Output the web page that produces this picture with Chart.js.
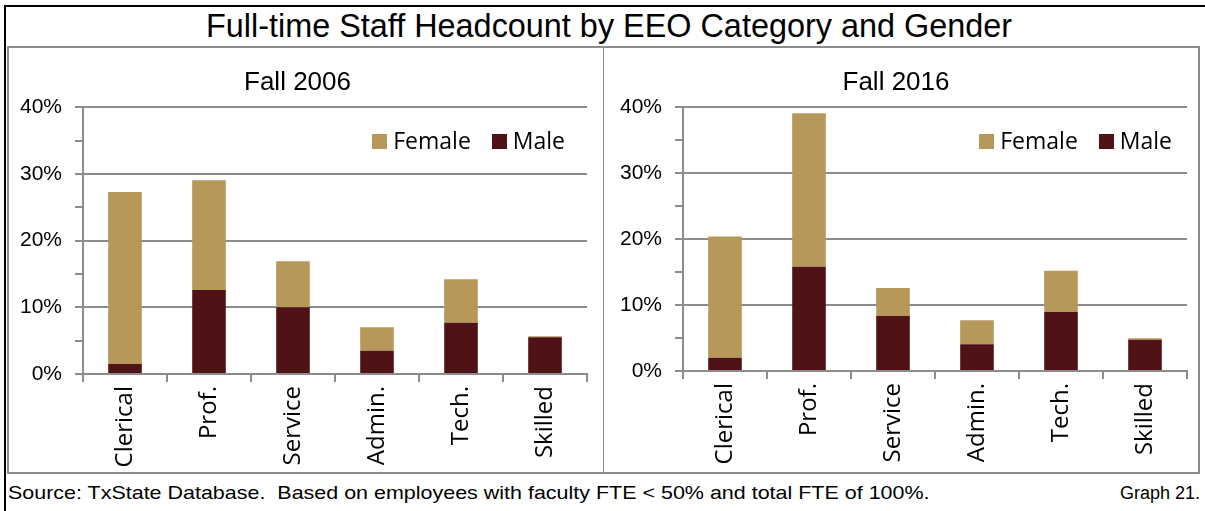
<!DOCTYPE html>
<html>
<head>
<meta charset="utf-8">
<script src="https://cdn.jsdelivr.net/npm/chart.js@4.4.1/dist/chart.umd.min.js"></script>
<style>
html,body{margin:0;padding:0;background:#fff;}
body{width:1205px;height:511px;position:relative;overflow:hidden;font-family:"Liberation Sans",Arial,sans-serif;color:#000;}
#frameTop{position:absolute;left:4px;top:5px;width:1201px;height:2px;background:#000;}
#frameLeft{position:absolute;left:4px;top:5px;width:2px;height:506px;background:#000;}
#title{position:absolute;left:5px;width:1208px;top:6px;text-align:center;font-size:32.4px;line-height:40px;white-space:nowrap;}
#panel{position:absolute;left:7px;top:46px;width:1193px;height:428px;box-sizing:border-box;border:2px solid #8c8c8c;}
#divider{position:absolute;left:603px;top:48px;width:1px;height:424px;background:#8c8c8c;}
.cw{position:absolute;top:48px;}
#source{position:absolute;left:8px;top:482px;font-size:19px;line-height:22px;white-space:nowrap;transform-origin:0 0;transform:scaleX(1.13);}
#graph{position:absolute;right:5px;top:482px;font-size:18px;line-height:22px;white-space:nowrap;}
</style>
</head>
<body>
<div id="frameTop"></div>
<div id="frameLeft"></div>
<div id="title">Full-time Staff Headcount by EEO Category and Gender</div>
<div id="panel"></div>
<div id="divider"></div>
<div class="cw" style="left:8px;"><canvas id="c2006" width="594" height="424"></canvas></div>
<div class="cw" style="left:605px;"><canvas id="c2016" width="592" height="424"></canvas></div>
<div id="source">Source: TxState Database.&nbsp; Based on employees with faculty FTE &lt; 50% and total FTE of 100%.</div>
<div id="graph">Graph 21.</div>
<script>
// ---- data ----
const categories = ['Clerical', 'Prof.', 'Service', 'Admin.', 'Tech.', 'Skilled'];
const seriesNames = ['Male', 'Female'];
const male2006   = [1.5, 12.6, 10.0, 3.5, 7.7, 5.5];
const female2006 = [25.8, 16.45, 6.9, 3.5, 6.5, 0.15];
const male2016   = [2.0, 15.8, 8.35, 4.05, 8.95, 4.75];
const female2016 = [18.4, 23.3, 4.25, 3.65, 6.25, 0.2];
const yTickValues = [0, 10, 20, 30, 40];
const yTickLabels = ['0%', '10%', '20%', '30%', '40%'];

// ---- styles ----
const MALE_COLOR = '#4f1216';
const FEMALE_COLOR = '#b5985a';
const GRID = '#8c8c8c';

const insideLegend = {
  id: 'insideLegend',
  afterDraw(chart, args, o) {
    const ctx = chart.ctx, ca = chart.chartArea;
    ctx.save();
    ctx.font = o.size + 'px "' + o.family + '"';
    ctx.textBaseline = 'middle';
    ctx.textAlign = 'left';
    const items = chart.data.datasets.slice().reverse();
    const widths = items.map(d => ctx.measureText(d.label).width);
    const total = items.reduce((s, d, i) => s + o.box + o.gap + widths[i], 0) + o.spacing * (items.length - 1);
    let x = ca.right - o.right - total;
    const y = ca.top + o.top;
    items.forEach((d, i) => {
      ctx.fillStyle = d.backgroundColor;
      ctx.fillRect(Math.round(x), Math.round(y - o.box / 2), o.box, o.box);
      x += o.box + o.gap;
      ctx.fillStyle = '#000';
      ctx.fillText(d.label, x, y + 1);
      x += widths[i] + o.spacing;
    });
    ctx.restore();
  }
};

function makeChart(id, title, male, female, lay) {
  return new Chart(document.getElementById(id), {
    type: 'bar',
    data: {
      labels: categories,
      datasets: [
        { label: seriesNames[0], data: male, backgroundColor: MALE_COLOR, borderWidth: 0,
          barPercentage: 0.4, categoryPercentage: 1.0 },
        { label: seriesNames[1], data: female, backgroundColor: FEMALE_COLOR, borderWidth: 0,
          barPercentage: 0.4, categoryPercentage: 1.0 }
      ]
    },
    options: {
      responsive: false,
      animation: false,
      devicePixelRatio: 1,
      layout: { padding: { left: 0, right: lay.padRight, top: 0, bottom: 0 } },
      plugins: {
        legend: { display: false },
        tooltip: { enabled: false },
        title: {
          display: true, text: title, color: '#000',
          font: { family: 'Liberation Sans', size: 26, weight: 'normal', lineHeight: 1.2 },
          padding: { top: 19, bottom: 9 }
        },
        insideLegend: { family: 'Open Sans', size: 23, box: 15, gap: 6, spacing: 21, right: lay.legRight, top: 34 }
      },
      scales: {
        x: {
          stacked: true,
          grid: { offset: true, drawOnChartArea: false, drawTicks: true, tickLength: 8, color: GRID, lineWidth: 2 },
          border: { display: true, color: GRID, width: 2 },
          ticks: { autoSkip: false, minRotation: 90, maxRotation: 90, padding: 4, color: '#000',
                   font: { family: 'Open Sans', size: 24 } },
          afterFit: s => { s.height = lay.xh; }
        },
        y: {
          stacked: true, min: 0, max: 40,
          grid: {
            color: c => (c.tick && yTickValues.includes(c.tick.value)) ? GRID : 'rgba(0,0,0,0)',
            tickColor: GRID, tickLength: 8, lineWidth: 2
          },
          border: { display: true, color: GRID, width: 2 },
          ticks: {
            stepSize: 5, padding: 13, color: '#000',
            font: { family: 'Liberation Sans', size: 21 },
            callback: v => { const i = yTickValues.indexOf(v); return i >= 0 ? yTickLabels[i] : ''; }
          },
          afterFit: s => { s.width = lay.yw; }
        }
      }
    },
    plugins: [insideLegend]
  });
}

Promise.all([
  document.fonts.load('22px "Open Sans"'),
  document.fonts.load('21px "Liberation Sans"')
]).catch(() => {}).then(() => {
  makeChart('c2006', 'Fall 2006', male2006, female2006, { padRight: 15, yw: 75, xh: 98, legRight: 22 });
  makeChart('c2016', 'Fall 2016', male2016, female2016, { padRight: 10, yw: 78, xh: 101, legRight: 15 });
});
</script>
</body>
</html>
